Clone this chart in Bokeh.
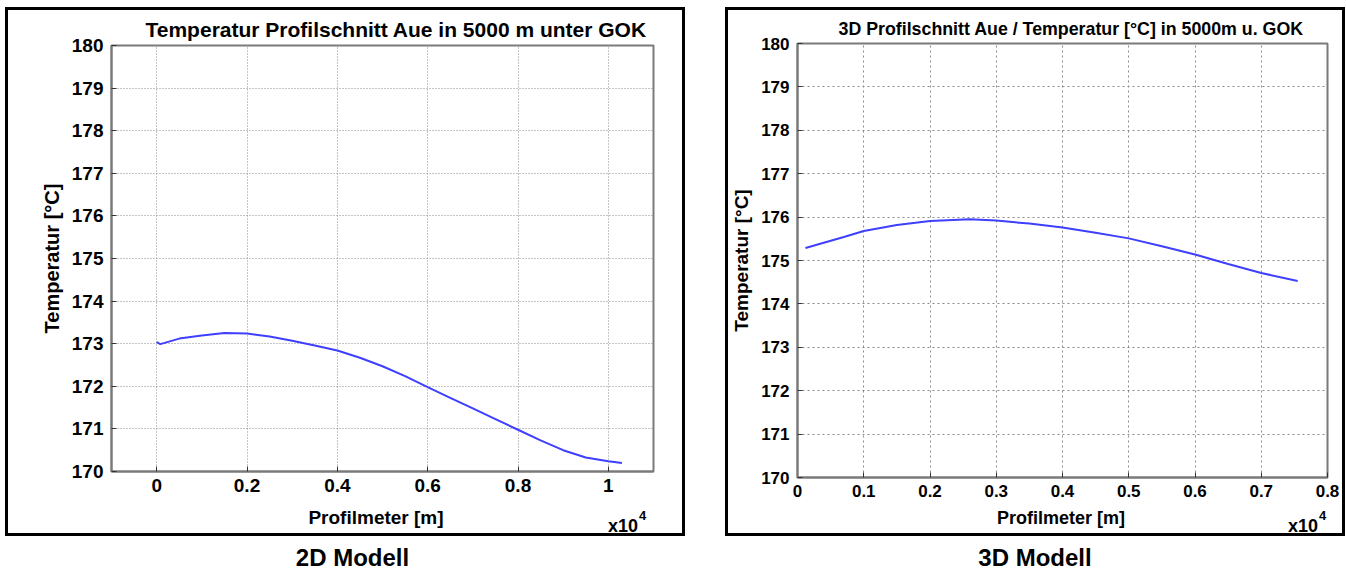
from bokeh.plotting import figure
from bokeh.models import FixedTicker, Div, Spacer, Range1d
from bokeh.layouts import row, column
from bokeh.embed import file_html
from bokeh.resources import INLINE

FONT = "Liberation Sans"

# ---- data: 2D model ----
left_x = [0, 80, 500, 1000, 1500, 2000, 2500, 3000, 3500, 4000, 4500, 5000,
          5500, 6000, 6500, 7000, 7500, 8000, 8500, 9000, 9500, 10000, 10300]
left_t = [173.04, 172.99, 173.12, 173.19, 173.25, 173.24, 173.17, 173.07, 172.96,
          172.84, 172.67, 172.47, 172.24, 171.98, 171.73, 171.48, 171.23, 170.98,
          170.73, 170.50, 170.33, 170.24, 170.20]
left_xticks = [0, 2000, 4000, 6000, 8000, 10000]
left_xlabels = ["0", "0.2", "0.4", "0.6", "0.8", "1"]

# ---- data: 3D model ----
right_x = [120, 700, 1000, 1500, 2000, 2600, 3000, 3500, 4000, 4500, 5000,
           5500, 6000, 6500, 7000, 7550]
right_t = [175.29, 175.54, 175.68, 175.82, 175.91, 175.95, 175.92, 175.85, 175.76,
           175.64, 175.51, 175.33, 175.14, 174.92, 174.71, 174.53]
right_xticks = [0, 1000, 2000, 3000, 4000, 5000, 6000, 7000, 8000]
right_xlabels = ["0", "0.1", "0.2", "0.3", "0.4", "0.5", "0.6", "0.7", "0.8"]

yticks = [170, 171, 172, 173, 174, 175, 176, 177, 178, 179, 180]
ylabels = [str(v) for v in yticks]

titles = ["Temperatur Profilschnitt Aue in 5000 m unter GOK",
          "3D Profilschnitt Aue / Temperatur [°C] in 5000m u. GOK"]
captions = ["2D Modell", "3D Modell"]
xlabel = "Profilmeter [m]"
ylabel = "Temperatur [°C]"
exp_base, exp_pow = "x10", "4"


def panel(xs, ts, xticks, xlabels, xr, title, w, h, mb, fs, lfs, tfs, toff, dash):
    p = figure(width=w, height=h, x_range=Range1d(*xr), y_range=Range1d(170, 180),
               output_backend="svg", toolbar_location=None,
               min_border_left=mb[0], min_border_right=mb[1],
               min_border_top=mb[2], min_border_bottom=mb[3])
    p.title.text = title
    p.title.text_font = FONT
    p.title.text_font_size = tfs
    p.title.text_font_style = "bold"
    p.title.text_color = "black"
    p.title.align = "left"
    p.title.offset = toff
    p.title.standoff = 10
    p.line(xs, ts, line_color="#3f3fff", line_width=2)

    p.xaxis.ticker = FixedTicker(ticks=xticks)
    p.xaxis.major_label_overrides = dict(zip(xticks, xlabels))
    p.yaxis.ticker = FixedTicker(ticks=yticks)
    p.yaxis.major_label_overrides = dict(zip(yticks, ylabels))
    p.yaxis.axis_label = ylabel
    for ax in (p.xaxis, p.yaxis):
        ax.major_label_text_font = FONT
        ax.major_label_text_font_size = fs
        ax.major_label_text_font_style = "bold"
        ax.major_label_text_color = "black"
        ax.axis_label_text_font = FONT
        ax.axis_label_text_font_size = lfs
        ax.axis_label_text_font_style = "bold"
        ax.axis_label_text_color = "black"
        ax.axis_line_color = "#7a7a7a"
        ax.axis_line_width = 2
        ax.major_tick_in = 5
        ax.major_tick_out = 0
        ax.major_tick_line_color = "#333333"
        ax.minor_tick_in = 0
        ax.minor_tick_out = 0
        ax.major_label_standoff = 8
    p.xaxis.major_label_standoff = 7
    p.yaxis.axis_label_standoff = 6
    for g in (p.xgrid, p.ygrid):
        g.grid_line_color = "#8a8a8a"
        g.grid_line_dash = dash
        g.grid_line_width = 1
    p.outline_line_color = "#7a7a7a"
    p.outline_line_width = 2
    p.outline_line_alpha = 1
    p.background_fill_color = "white"
    p.border_fill_color = "white"
    return p


def bottom_row(w, cx, xleft, lfs):
    html = (
        f'<div style="position:relative;width:{w}px;height:26px;'
        f'font-family:\'{FONT}\';font-weight:bold;color:black">'
        f'<span style="position:absolute;left:{cx}px;top:0px;transform:translateX(-50%);'
        f'font-size:{lfs};line-height:22px;white-space:nowrap">{xlabel}</span>'
        f'<span style="position:absolute;left:{xleft}px;top:10px;font-size:18px;'
        f'line-height:18px;white-space:nowrap">{exp_base}</span>'
        f'<span style="position:absolute;left:{xleft + 31}px;top:2px;font-size:13px;'
        f'line-height:13px">{exp_pow}</span></div>'
    )
    return Div(text=html, width=w, height=26, margin=0)


p1 = panel(left_x, left_t, left_xticks, left_xlabels, (-1000, 11000), titles[0],
           674, 497, (103, 29, 33, 36), "19px", "20px", "21px", 34, "1 2")
p2 = panel(right_x, right_t, right_xticks, right_xlabels, (0, 8000), titles[1],
           614, 497, (69, 15, 33, 30), "17px", "19px", "17.8px", 41, "2 3")

box = {"border": "3px solid black", "box-sizing": "border-box", "background": "white"}
c1 = column(p1, bottom_row(674, 368, 600, "19px"), width=680, height=529, styles=box)
c2 = column(p2, bottom_row(614, 333, 560, "18px"), width=620, height=529, styles=box)

cap_style = {"font-family": FONT, "font-weight": "bold", "font-size": "24px",
             "text-align": "center", "color": "black", "line-height": "28px",
             "padding-top": "8px"}
d1 = Div(text=captions[0], width=705, height=37, styles=cap_style, margin=0)
d2 = Div(text=captions[1], width=620, height=37, styles=cap_style, margin=0)

layout = column(Spacer(height=7),
                row(Spacer(width=5), c1, Spacer(width=40), c2),
                row(d1, Spacer(width=20), d2))

open("out.html", "w").write(file_html(layout, INLINE))
